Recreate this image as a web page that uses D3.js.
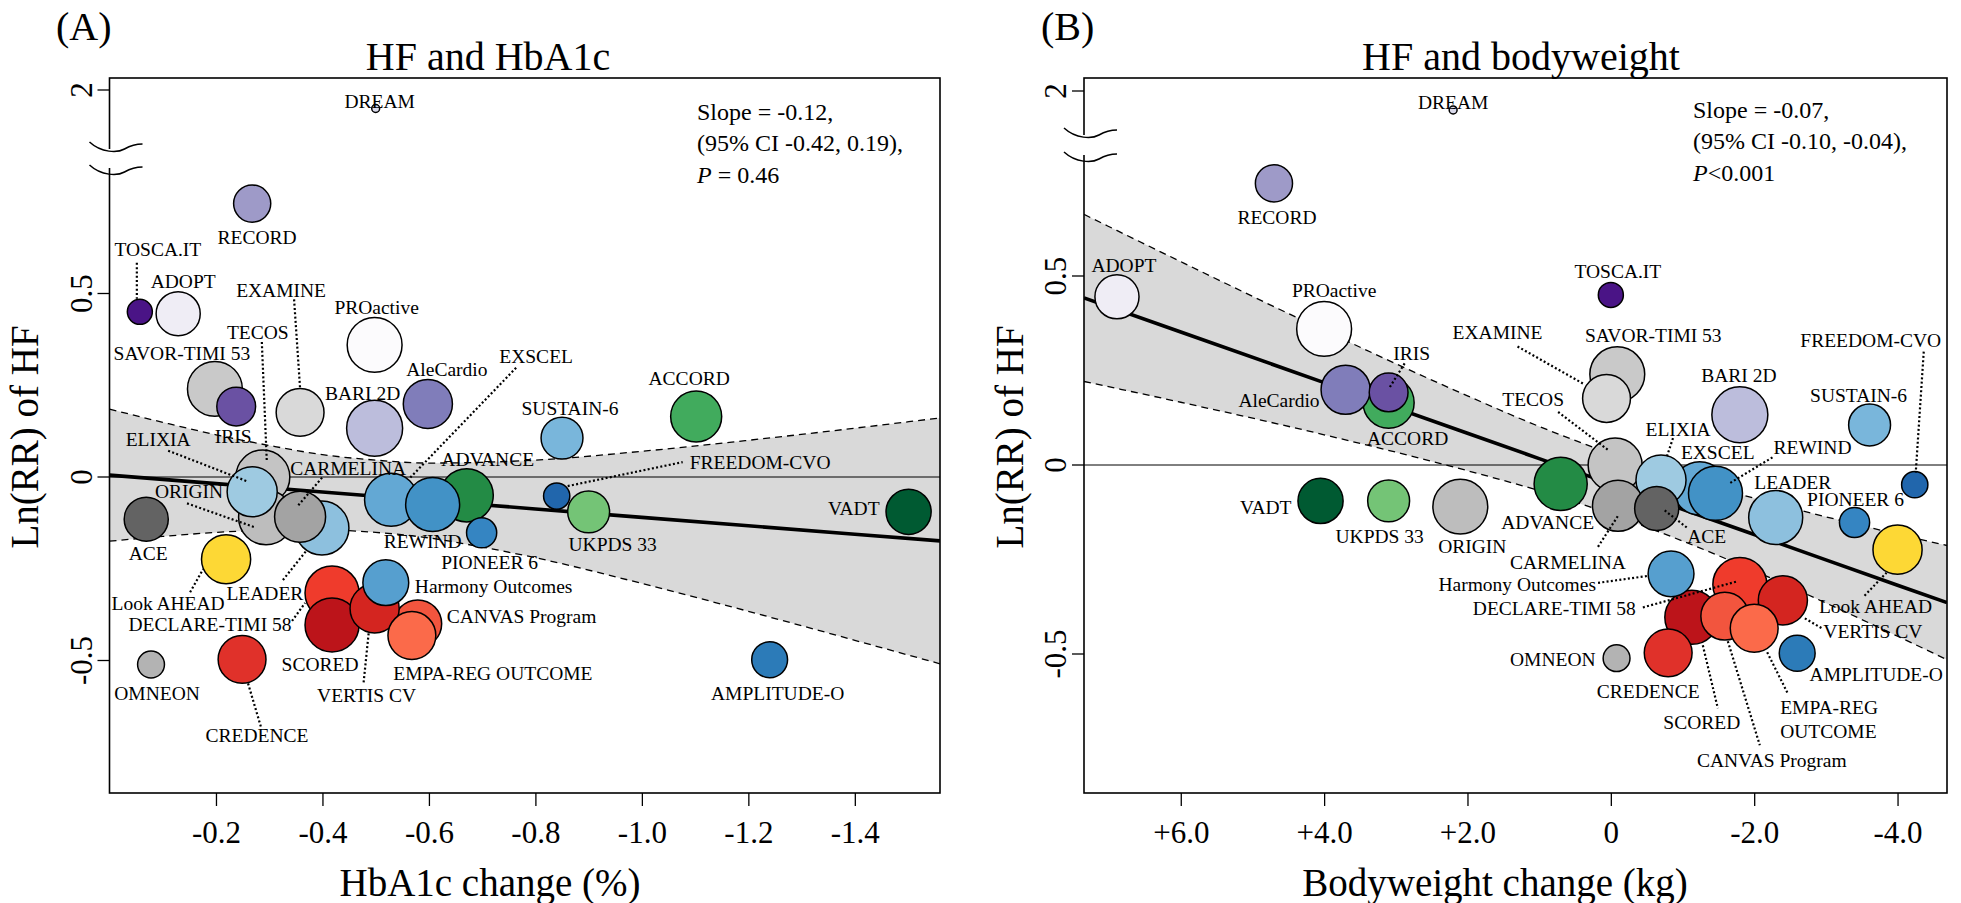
<!DOCTYPE html>
<html><head><meta charset="utf-8">
<script src="https://cdn.jsdelivr.net/npm/d3@7"></script>
<style>
body{margin:0;background:#fff}
svg{display:block}
text{font-family:"Liberation Serif","Times New Roman",serif;fill:#000}
</style>
</head><body>
<svg id="chart" width="1961" height="903"></svg>
<script>
// ---------------- DATA ----------------
const trials = ["DREAM","TOSCA.IT","RECORD","ADOPT","PROactive","BARI 2D","ACCORD","AleCardio","SAVOR-TIMI 53","IRIS","EXAMINE","TECOS","ORIGIN","EXSCEL","ELIXIA","LEADER","CARMELINA","ACE","ADVANCE","REWIND","SUSTAIN-6","PIONEER 6","FREEDOM-CVO","AMPLITUDE-O","UKPDS 33","VADT","Look AHEAD","OMNEON","DECLARE-TIMI 58","SCORED","CREDENCE","CANVAS Program","VERTIS CV","Harmony Outcomes","EMPA-REG OUTCOME"];
const lnRR = [1.95,0.45,0.745,0.445,0.36,0.133,0.165,0.199,0.24,0.192,0.176,0.0,-0.11,-0.062,-0.04,-0.139,-0.108,-0.115,-0.05,-0.075,0.106,-0.152,-0.052,-0.498,-0.095,-0.095,-0.224,-0.511,-0.316,-0.403,-0.497,-0.40,-0.358,-0.288,-0.432];
const hba1cChange = [-0.50,-0.057,-0.268,-0.129,-0.498,-0.498,-1.102,-0.598,-0.198,-0.238,-0.358,-0.288,-0.294,-0.529,-0.268,-0.399,-0.358,-0.069,-0.671,-0.607,-0.850,-0.699,-0.840,-1.240,-0.900,-1.501,-0.219,-0.078,-0.418,-0.418,-0.249,-0.579,-0.498,-0.519,-0.568];
const weightChange = [2.2,0.0,4.7,6.89,4.0,-1.8,3.1,3.7,-0.09,3.1,0.06,-0.06,2.1,-1.24,-0.7,-2.3,-0.1,-0.64,0.7,-1.46,-3.61,-3.4,-4.24,-2.6,3.1,4.05,-4.0,-0.08,-1.8,-1.13,-0.8,-1.59,-2.4,-0.84,-2.0];
const studyWeight = [2,20,44,62,96,100,83,77,96,48,73,93,96,90,80,93,83,62,90,93,56,29,22,41,56,65,77,23,93,93,73,73,77,67,73];

// meta-regression fits and 95% CI bands
const bandA_x   = [0,-0.1,-0.2,-0.3,-0.4,-0.5,-0.6,-0.7,-0.8,-1.0,-1.2,-1.4,-1.56];
const bandA_fit = [0.005,-0.0065,-0.018,-0.0295,-0.041,-0.0525,-0.064,-0.0755,-0.087,-0.110,-0.133,-0.156,-0.174];
const bandA_hi  = [0.185,0.149,0.115,0.086,0.061,0.046,0.038,0.040,0.046,0.070,0.100,0.133,0.161];
const bandA_lo  = [-0.175,-0.162,-0.151,-0.145,-0.144,-0.151,-0.166,-0.191,-0.220,-0.290,-0.366,-0.445,-0.509];
const bandB_x   = [7.35,6,4,2,1,0,-1,-2,-3,-4,-4.69];
const bandB_fit = [0.442,0.352,0.218,0.084,0.017,-0.050,-0.117,-0.184,-0.251,-0.318,-0.364];
const bandB_hi  = [0.663,0.538,0.356,0.183,0.102,0.030,-0.033,-0.088,-0.137,-0.183,-0.213];
const bandB_lo  = [0.221,0.166,0.080,-0.015,-0.068,-0.130,-0.201,-0.280,-0.365,-0.453,-0.515];

const yTicks = [-0.5, 0, 0.5, 2];
const xTicksA = [-0.2,-0.4,-0.6,-0.8,-1.0,-1.2,-1.4];
const xTickLabelsA = ["-0.2","-0.4","-0.6","-0.8","-1.0","-1.2","-1.4"];
const xTicksB = [6,4,2,0,-2,-4];
const xTickLabelsB = ["+6.0","+4.0","+2.0","0","-2.0","-4.0"];
const statsA = ["Slope = -0.12,","(95% CI -0.42, 0.19),","= 0.46"];
const statsB = ["Slope = -0.07,","(95% CI -0.10, -0.04),","<0.001"];

// ---------------- STYLE ----------------
const colors = {
 "DREAM":"#dadaeb","TOSCA.IT":"#4a1486","RECORD":"#9e9ac8","ADOPT":"#efedf5","PROactive":"#fcfbfd","BARI 2D":"#bcbddc",
 "ACCORD":"#41ab5d","AleCardio":"#807dba","SAVOR-TIMI 53":"#c9c9c9","IRIS":"#6a51a3","EXAMINE":"#d9d9d9","TECOS":"#c4c4c4",
 "ORIGIN":"#bdbdbd","EXSCEL":"#63a8d4","ELIXIA":"#9ecae1","LEADER":"#8dc0de","CARMELINA":"#a3a3a3","ACE":"#636363",
 "ADVANCE":"#238b45","REWIND":"#4292c6","SUSTAIN-6":"#79b6db","PIONEER 6":"#3585c2","FREEDOM-CVO":"#2166ac","AMPLITUDE-O":"#2c7bb8",
 "UKPDS 33":"#74c476","VADT":"#005a32","Look AHEAD":"#fdd835","OMNEON":"#b3b3b3","DECLARE-TIMI 58":"#ef3b2c","SCORED":"#bc141a",
 "CREDENCE":"#e0312a","CANVAS Program":"#f2553e","VERTIS CV":"#d42520","Harmony Outcomes":"#569fcf","EMPA-REG OUTCOME":"#fb6a4a"
};
// label layout: [dx, dy, anchor, leader(x1,y1,x2,y2)] relative to bubble centre
const labelA = {
 "DREAM":[4,-7,"middle"],"RECORD":[5,34,"middle"],"TOSCA.IT":[18,-63,"middle",[-3,-49,-3,-13]],"ADOPT":[5,-33,"middle"],
 "EXAMINE":[-19,-122,"middle",[-6,-113,0,-24]],"PROactive":[2,-38,"middle"],"TECOS":[-5,-145,"middle",[-1,-135,4,-15]],
 "SAVOR-TIMI 53":[-33,-36,"middle"],"IRIS":[-3,30,"middle"],"BARI 2D":[-12,-35,"middle"],"AleCardio":[19,-35,"middle"],
 "EXSCEL":[145,-144,"middle",[125,-132,19,-22]],"ELIXIA":[-94,-53,"middle",[-84,-41,-4,-10]],"ORIGIN":[-77,-26,"middle",[-79,-14,-11,10]],
 "CARMELINA":[48,-48,"middle",[22,-39,-3,-10]],"LEADER":[-57,65,"middle",[-39,52,-15,22]],"ACE":[2,34,"middle"],
 "Look AHEAD":[-58,44,"middle",[-36,33,-23,10]],"DECLARE-TIMI 58":[-122,31,"middle",[-40,28,-27,10]],"SCORED":[-12,39,"middle"],
 "Harmony Outcomes":[29,3,"start"],"VERTIS CV":[-8,87,"middle",[-6,25,-11,74]],"CANVAS Program":[29,-8,"start"],
 "EMPA-REG OUTCOME":[81,38,"middle"],"CREDENCE":[15,76,"middle",[6,24,19,68]],"OMNEON":[6,29,"middle"],"REWIND":[-10,37,"middle"],
 "ADVANCE":[21,-36,"middle"],"PIONEER 6":[8,29,"middle"],"SUSTAIN-6":[8,-30,"middle"],"ACCORD":[-7,-38,"middle"],
 "FREEDOM-CVO":[133,-34,"start",[11,-10,126,-34]],"UKPDS 33":[24,32,"middle"],"VADT":[-29,-4,"end"],"AMPLITUDE-O":[8,33,"middle"]
};
const labelB = {
 "DREAM":[0,-8,"middle"],"RECORD":[3,34,"middle"],"ADOPT":[7,-32,"middle"],"PROactive":[10,-39,"middle"],"AleCardio":[-26,10,"end"],
 "ACCORD":[19,36,"middle"],"IRIS":[23,-39,"middle",[16,-29,1,-5]],"TOSCA.IT":[7,-24,"middle"],"SAVOR-TIMI 53":[36,-39,"middle"],
 "EXAMINE":[-109,-66,"middle",[-89,-52,-22,-14]],"TECOS":[-82,-66,"middle",[-57,-53,-7,-15]],"BARI 2D":[-1,-40,"middle"],
 "SUSTAIN-6":[-11,-30,"middle"],"FREEDOM-CVO":[-44,-144,"middle",[9,-133,1,-12]],"ELIXIA":[17,-51,"middle",[12,-42,6,-24]],
 "EXSCEL":[18,-36,"middle"],"REWIND":[97,-46,"middle",[57,-36,14,-10]],"LEADER":[17,-35,"middle"],"PIONEER 6":[1,-23,"middle"],
 "Look AHEAD":[-22,57,"middle",[-33,46,-11,23]],"VERTIS CV":[90,31,"middle",[22,18,39,28]],"AMPLITUDE-O":[79,21,"middle"],
 "DECLARE-TIMI 58":[-104,24,"end",[-97,23,-3,-3]],"SCORED":[10,105,"middle",[11,28,26,91]],"CANVAS Program":[47,144,"middle",[3,25,35,129]],
 "EMPA-REG OUTCOME":[26,79,"start",[13,24,34,66],"EMPA-REG\nOUTCOME"],"CREDENCE":[-20,38,"middle"],"OMNEON":[-21,1,"end"],
 "Harmony Outcomes":[-75,10,"end",[-73,9,-23,2]],"ADVANCE":[-13,38,"middle"],"CARMELINA":[-50,56,"middle",[-20,41,0,10]],
 "ACE":[50,28,"middle",[30,19,8,2]],"VADT":[-29,6,"end"],"UKPDS 33":[-9,35,"middle"],"ORIGIN":[12,40,"middle"]
};

const svg = d3.select("#chart");
const rScale = d3.scaleSqrt().domain([0,100]).range([0,28]);

function drawPanel(cfg){
  const g = svg.append("g");
  const {x, yLow, yUp, left, right, top, bottom} = cfg;
  const yPos = v => v > 1.5 ? yUp(v) : yLow(v);
  const clipId = "clip" + cfg.id;
  svg.append("clipPath").attr("id", clipId).append("rect")
     .attr("x", left).attr("y", top).attr("width", right-left).attr("height", bottom-top);
  const inner = g.append("g").attr("clip-path", `url(#${clipId})`);

  const band = cfg.bx.map((xv,i)=>({x:xv, lo:cfg.blo[i], hi:cfg.bhi[i], fit:cfg.bfit[i]}));
  inner.append("path").datum(band)
    .attr("d", d3.area().x(d=>x(d.x)).y0(d=>yLow(d.lo)).y1(d=>yLow(d.hi)).curve(d3.curveMonotoneX))
    .attr("fill", "#d9d9d9");
  ["lo","hi"].forEach(k=>{
    inner.append("path").datum(band)
      .attr("d", d3.line().x(d=>x(d.x)).y(d=>yLow(d[k])).curve(d3.curveMonotoneX))
      .attr("fill","none").attr("stroke","#000").attr("stroke-width",1.3).attr("stroke-dasharray","7,5");
  });
  inner.append("line").attr("x1", left).attr("x2", right).attr("y1", yLow(0)).attr("y2", yLow(0))
    .attr("stroke","#000").attr("stroke-width",1);
  inner.append("path").datum(band)
    .attr("d", d3.line().x(d=>x(d.x)).y(d=>yLow(d.fit)))
    .attr("fill","none").attr("stroke","#000").attr("stroke-width",3.6);

  const data = trials.map((t,i)=>({name:t, xv:cfg.xs[i], yv:lnRR[i], r:rScale(studyWeight[i])}));
  inner.selectAll("circle.b").data(data).join("circle")
    .attr("cx", d=>x(d.xv)).attr("cy", d=>yPos(d.yv)).attr("r", d=>d.r)
    .attr("fill", d=>colors[d.name]).attr("stroke","#000").attr("stroke-width",1.5);

  const labs = cfg.labels;
  data.forEach(d=>{
    const L = labs[d.name]; if(!L) return;
    const cx = x(d.xv), cy = yPos(d.yv);
    if (L[3]) {
      g.append("line").attr("x1", cx+L[3][0]).attr("y1", cy+L[3][1]).attr("x2", cx+L[3][2]).attr("y2", cy+L[3][3])
        .attr("stroke","#000").attr("stroke-width",2.2).attr("stroke-dasharray","2,2.3");
    }
  });
  data.forEach(d=>{
    const L = labs[d.name]; if(!L) return;
    const cx = x(d.xv), cy = yPos(d.yv);
    const txt = L[4] || d.name;
    const lines = txt.split("\n");
    const t = g.append("text").attr("x", cx+L[0]).attr("y", cy+L[1]).attr("dy","0.35em")
      .attr("text-anchor", L[2]).style("font-size","19.5px");
    if (lines.length === 1) t.text(txt);
    else lines.forEach((ln,j)=> t.append("tspan").attr("x", cx+L[0]).attr("dy", j===0 ? "0.35em" : "24px").text(ln));
  });

  // box with axis break
  g.append("rect").attr("x", left).attr("y", top).attr("width", right-left).attr("height", bottom-top)
    .attr("fill","none").attr("stroke","#000").attr("stroke-width",1.6);
  g.append("rect").attr("x", left-4).attr("y", cfg.brk1+2).attr("width", 8).attr("height", cfg.brk2-cfg.brk1-4).attr("fill","#fff");
  [cfg.brk1, cfg.brk2].forEach(yb=>{
    g.append("path")
      .attr("d", `M${left-20},${yb-5} C${left-8},${yb+6} ${left+8},${yb+6} ${left+15},${yb+2} S${left+26},${yb-3} ${left+33},${yb-3}`)
      .attr("fill","none").attr("stroke","#000").attr("stroke-width",1.5);
  });

  // x axis
  const ax = g.append("g").attr("transform", `translate(0,${bottom})`)
    .call(d3.axisBottom(x).tickValues(cfg.xt).tickFormat((d,i)=>cfg.xtl[i]).tickSize(13).tickPadding(15));
  ax.select(".domain").remove();
  ax.selectAll("line").attr("stroke","#000").attr("stroke-width",1.3);
  ax.selectAll("text").style("font-size","31px").attr("font-family",null);

  // y axis
  yTicks.forEach(v=>{
    const yy = yPos(v);
    g.append("line").attr("x1", left-12).attr("x2", left).attr("y1", yy).attr("y2", yy).attr("stroke","#000").attr("stroke-width",1.3);
    g.append("text").attr("transform", `translate(${left-18},${yy}) rotate(-90)`).attr("text-anchor","middle")
      .style("font-size","31px").text(v===0?"0":String(v));
  });

  // titles
  svg.append("text").attr("x", cfg.tagX).attr("y", 40).style("font-size","40px").text(cfg.tag);
  svg.append("text").attr("x", cfg.titleX).attr("y", 70).attr("text-anchor","middle").style("font-size","40px").text(cfg.title);
  svg.append("text").attr("x", cfg.xlabX).attr("y", 896).attr("text-anchor","middle").style("font-size","39px").text(cfg.xlab);
  svg.append("text").attr("transform", `translate(${cfg.ylabX},437) rotate(-90)`).attr("text-anchor","middle")
     .style("font-size","39px").text("Ln(RR) of HF");

  // stats
  const st = cfg.stats;
  svg.append("text").attr("x", cfg.statX).attr("y", cfg.statY).style("font-size","24px").text(st[0]);
  svg.append("text").attr("x", cfg.statX).attr("y", cfg.statY+31).style("font-size","24px").text(st[1]);
  const t3 = svg.append("text").attr("x", cfg.statX).attr("y", cfg.statY+63).style("font-size","24px");
  t3.append("tspan").style("font-style","italic").text("P");
  t3.append("tspan").text(cfg.pSpace + st[2]);
}

drawPanel({
  id:"A", left:109.5, right:940, top:78, bottom:793,
  x: d3.scaleLinear().domain([0,-1.56]).range([109.5,940]),
  yLow: d3.scaleLinear().domain([0,1]).range([477,110]),
  yUp: d3.scaleLinear().domain([1.95,2]).range([108.5,90]),
  brk1:147, brk2:170,
  xs: hba1cChange, bx:bandA_x, bfit:bandA_fit, bhi:bandA_hi, blo:bandA_lo,
  labels: labelA, xt:xTicksA, xtl:xTickLabelsA,
  tag:"(A)", tagX:56, title:"HF and HbA1c", titleX:488, xlab:"HbA1c change (%)", xlabX:490, ylabX:38,
  stats:statsA, statX:697, statY:120, pSpace:" "
});
drawPanel({
  id:"B", left:1084, right:1947, top:78, bottom:793,
  x: d3.scaleLinear().domain([7.35,-4.69]).range([1084,1947]),
  yLow: d3.scaleLinear().domain([0,1]).range([465,87]),
  yUp: d3.scaleLinear().domain([1.95,2]).range([110,91]),
  brk1:133, brk2:157,
  xs: weightChange, bx:bandB_x, bfit:bandB_fit, bhi:bandB_hi, blo:bandB_lo,
  labels: labelB, xt:xTicksB, xtl:xTickLabelsB,
  tag:"(B)", tagX:1041, title:"HF and bodyweight", titleX:1521, xlab:"Bodyweight change (kg)", xlabX:1495, ylabX:1023,
  stats:statsB, statX:1693, statY:118, pSpace:""
});
</script>
</body></html>
